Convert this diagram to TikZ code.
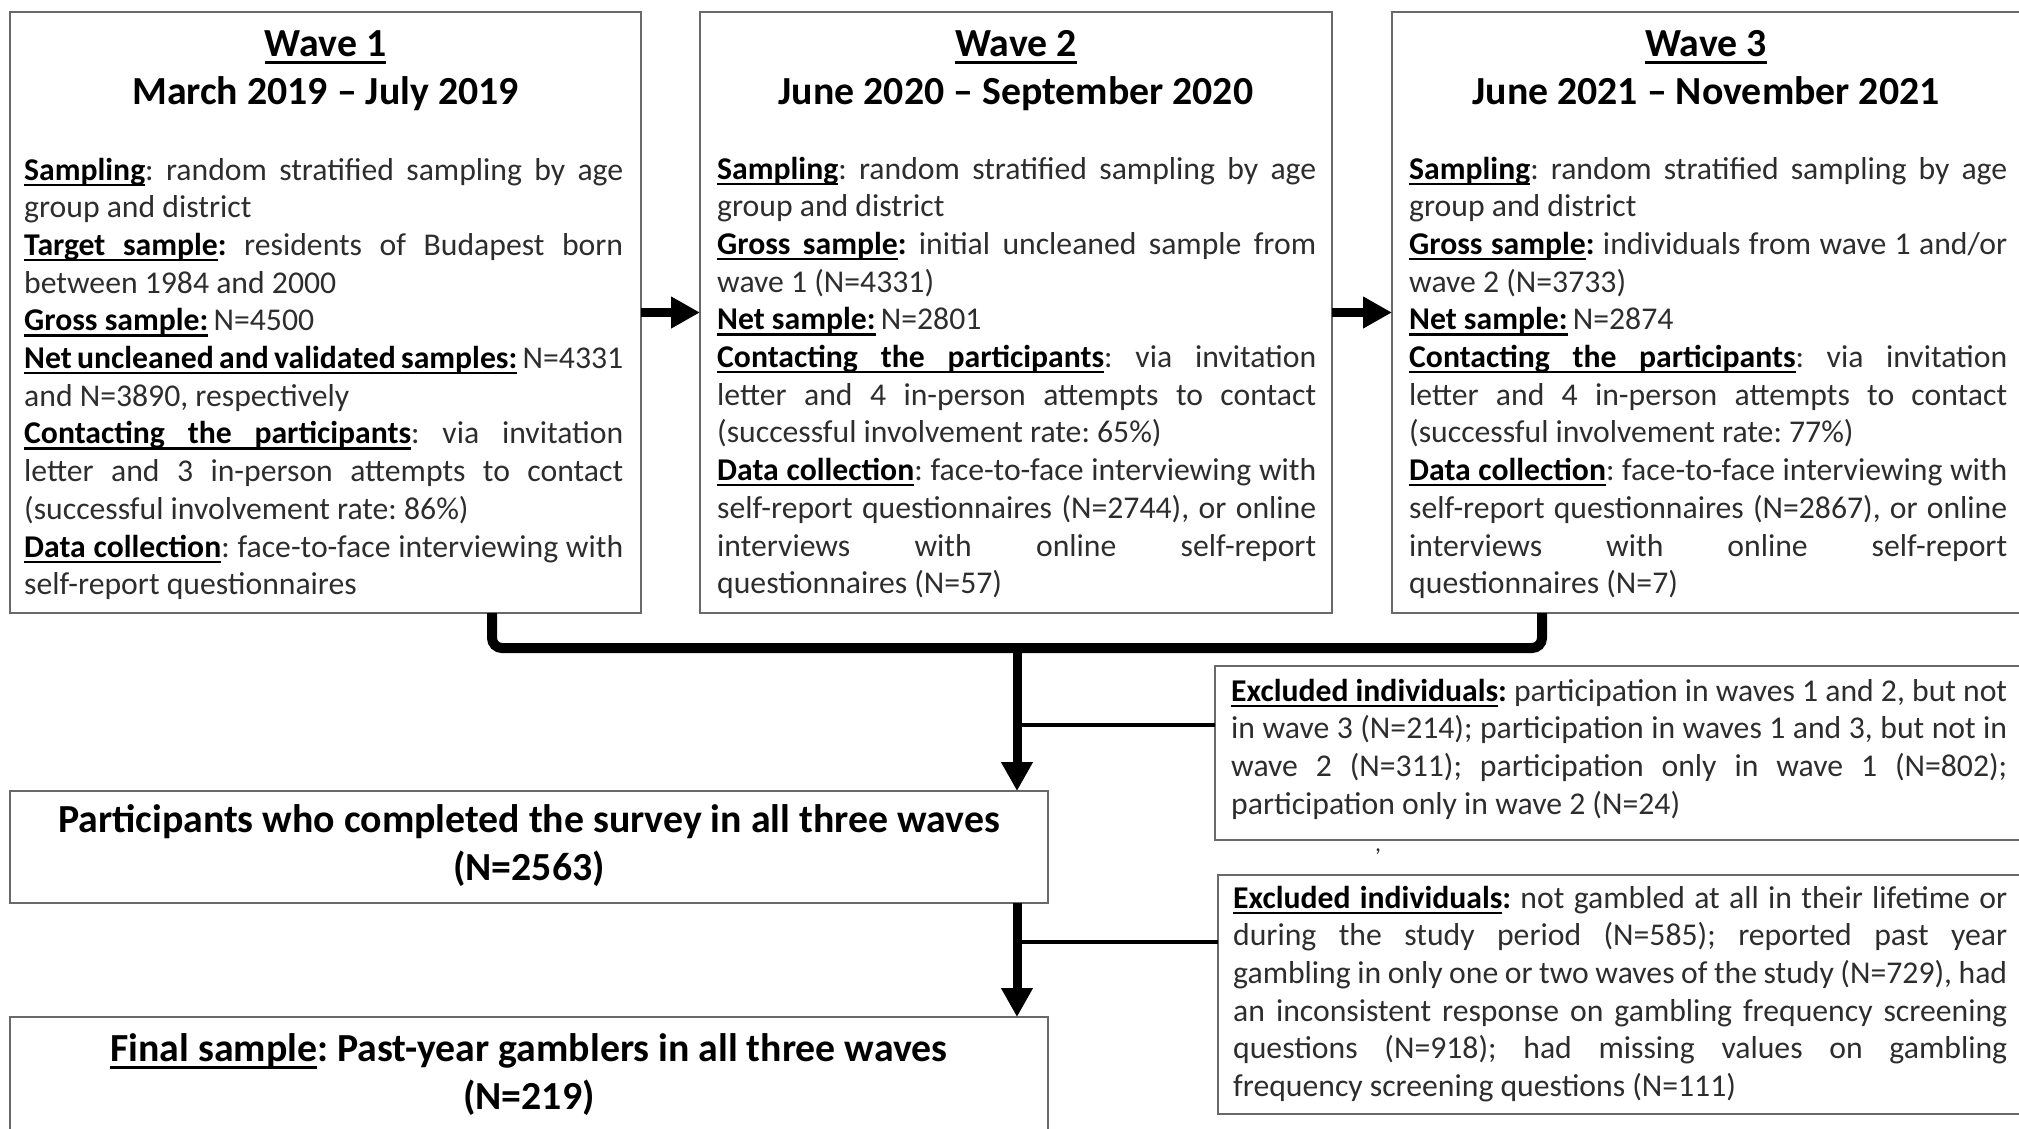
\documentclass[tikz,border=0pt]{standalone}
\usepackage{fontspec}
\setmainfont{Carlito}
\usetikzlibrary{arrows.meta}
\frenchspacing
\def\ULt{2.2pt}
\def\ULd{3.5pt}
\newcommand\ulword[1]{\setbox0\hbox{#1}\rlap{\vrule height -\ULd\space depth \dimexpr\ULd+\ULt\relax\space width \wd0}\box0}
\newcommand\ulspace{\leaders\hrule height -\ULd\space depth \dimexpr\ULd+\ULt\relax\hskip\fontdimen2\font plus\fontdimen3\font minus\fontdimen4\font\relax}
\def\ulA#1 #2\ulEnd{\ulword{#1}\ifx\relax#2\relax\else\ulspace\ulA#2\ulEnd\fi}
\newcommand\myul[1]{\ulA#1 \ulEnd}
\definecolor{boxgray}{RGB}{105,105,105}
\definecolor{txt}{RGB}{45,45,45}
\newcommand\lab[1]{{\color{black}\bfseries\myul{#1}}}
\newcommand\bcol{{\color{black}\bfseries :}}
\newcommand\jl[1]{\hbox to\hsize{#1}}
\newcommand\rl[1]{\hbox to\hsize{#1\hfil}}
\newcommand\twolines[2]{\vtop{\halign{\hfil##\hfil\cr#1\cr#2\cr}}}
\begin{document}
\begin{tikzpicture}[x=1pt,y=-1pt,
  box/.style={draw=boxgray, line width=2pt, inner sep=0pt, outer sep=0pt, anchor=north west},
  conn/.style={line width=10pt, black},
  arr/.style={line width=9pt, black, -{Triangle[length=29pt,width=30pt]}},
  branch/.style={line width=4.5pt, black},
  body/.style={anchor=base west, inner sep=0pt, text=txt, font=\fontsize{31.7}{37.7}\selectfont\frenchspacing},
  head/.style={anchor=base, inner sep=0pt, text=black, font=\fontsize{39.8}{48.5}\selectfont\bfseries\frenchspacing\def\ULt{3pt}\def\ULd{5pt}},
]
\useasboundingbox (0,0) rectangle (2019,1128);

% boxes
\node[box, minimum width=631pt, minimum height=601pt] (w1) at (10,12) {};
\node[box, minimum width=632pt, minimum height=601pt] (w2) at (700,12) {};
\node[box, minimum width=640pt, minimum height=601pt] (w3) at (1392,12) {};
\node[box, minimum width=1038pt, minimum height=112pt] (p) at (10,791) {};
\node[box, minimum width=1038pt, minimum height=130pt] (f) at (10,1017) {};
\node[box, minimum width=820pt, minimum height=174pt] (e1) at (1215,666) {};
\node[box, minimum width=820pt, minimum height=239pt] (e2) at (1218,875) {};

% titles
\node[head] (w1t) at (325.5,56) {\twolines{\myul{Wave 1}}{March 2019 – July 2019}};
\node[head] (w2t) at (1016,56) {\twolines{\myul{Wave 2}}{June 2020 – September 2020}};
\node[head] (w3t) at (1706,56) {\twolines{\myul{Wave 3}}{June 2021 – November 2021}};

% wave bodies
\node[body] (w1b) at (24,180) {\vtop{\hsize=599pt
\jl{\lab{Sampling}: random stratified sampling by age}
\rl{group and district}
\jl{\lab{Target sample}\bcol{} residents of Budapest born}
\rl{between 1984 and 2000}
\rl{\lab{Gross sample:}\,N=4500}
\jl{\lab{Net uncleaned and validated samples:} N=4331}
\rl{and N=3890, respectively}
\jl{\lab{Contacting the participants}: via invitation}
\jl{letter and 3 in-person attempts to contact}
\rl{(successful involvement rate: 86\%)}
\jl{\lab{Data collection}: face-to-face interviewing with}
\rl{self-report questionnaires}}};

\node[body] (w2b) at (717,179) {\vtop{\hsize=599pt
\jl{\lab{Sampling}: random stratified sampling by age}
\rl{group and district}
\jl{\lab{Gross sample}\bcol{} initial uncleaned sample from}
\rl{wave 1 (N=4331)}
\rl{\lab{Net sample:}\,N=2801}
\jl{\lab{Contacting the participants}: via invitation}
\jl{letter and 4 in-person attempts to contact}
\rl{(successful involvement rate: 65\%)}
\jl{\lab{Data collection}: face-to-face interviewing with}
\jl{self-report questionnaires (N=2744), or online}
\jl{interviews with online self-report}
\rl{questionnaires (N=57)}}};

\node[body] (w3b) at (1409,179) {\vtop{\hsize=598pt
\jl{\lab{Sampling}: random stratified sampling by age}
\rl{group and district}
\jl{\lab{Gross sample}\bcol{} individuals from wave 1 and/or}
\rl{wave 2 (N=3733)}
\rl{\lab{Net sample:}\,N=2874}
\jl{\lab{Contacting the participants}: via invitation}
\jl{letter and 4 in-person attempts to contact}
\rl{(successful involvement rate: 77\%)}
\jl{\lab{Data collection}: face-to-face interviewing with}
\jl{self-report questionnaires (N=2867), or online}
\jl{interviews with online self-report}
\rl{questionnaires (N=7)}}};

% lower boxes text
\node[head] (pt) at (529,832) {\twolines{Participants who completed the survey in all three waves}{(N=2563)}};
\node[head] (ft) at (529,1061) {\twolines{\myul{Final sample}: Past-year gamblers in all three waves}{(N=219)}};

\node[body] (e1t) at (1231,701) {\vtop{\hsize=776pt
\jl{\lab{Excluded individuals}\bcol{} participation in waves 1 and 2, but not}
\jl{in wave 3 (N=214); participation in waves 1 and 3, but not in}
\jl{wave 2 (N=311); participation only in wave 1 (N=802);}
\rl{participation only in wave 2 (N=24)}}};

\node[body] (e2t) at (1233,908) {\vtop{\hsize=774pt
\jl{\lab{Excluded individuals}\bcol{} not gambled at all in their lifetime or}
\jl{during the study period (N=585); reported past year}
\jl{gambling in only one or two waves of the study (N=729), had}
\jl{an inconsistent response on gambling frequency screening}
\jl{questions (N=918); had missing values on gambling}
\rl{frequency screening questions (N=111)}}};

\node[inner sep=0pt, text=txt, font=\fontsize{24}{24}\selectfont] (cm) at (1378,852) {,};

% connectors
\coordinate (bl) at (492,648);
\coordinate (br) at (1542,648);
\coordinate (bm) at (1017,648);
\coordinate (j1) at (1017,725);
\coordinate (j2) at (1017,942);
\draw[arr] (w1.east) -- (w2.west);
\draw[arr] (w2.east) -- (w3.west);
\draw[conn, rounded corners=10pt] (w1.south -| bl) -- (bl) -- (br) -- (w3.south -| br);
\draw[arr] (bm) -- (p.north -| bm);
\draw[branch] (j1) -- (j1 -| e1.west);
\draw[arr] (p.south -| bm) -- (f.north -| bm);
\draw[branch] (j2) -- (j2 -| e2.west);
\end{tikzpicture}
\end{document}
